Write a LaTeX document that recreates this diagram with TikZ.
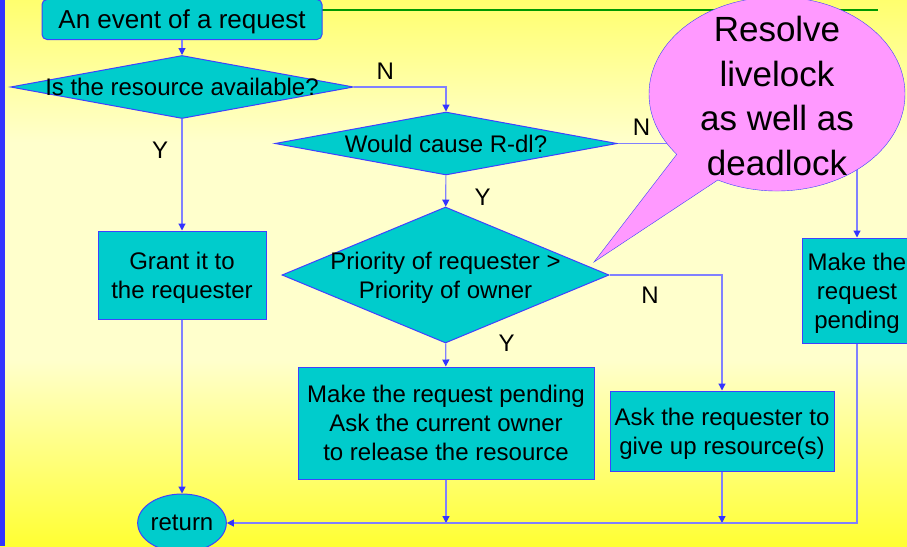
\documentclass[tikz,border=0pt]{standalone}
\usepackage{fontspec}
\setmainfont{Liberation Sans}
\usetikzlibrary{shapes.geometric, shapes.callouts, arrows.meta, positioning, calc}

\definecolor{boxfill}{RGB}{0,204,204}
\definecolor{boxline}{RGB}{64,64,255}
\definecolor{wire}{RGB}{128,128,255}
\definecolor{tipblue}{RGB}{51,51,255}
\definecolor{bubble}{RGB}{255,153,255}
\definecolor{ytop}{RGB}{255,255,110}
\definecolor{ylight}{RGB}{255,255,204}
\definecolor{ybot}{RGB}{255,255,51}
\definecolor{rulegreen}{RGB}{0,153,0}

\pgfdeclareverticalshading{slidebg}{100bp}{color(0bp)=(ybot); color(25bp)=(ybot); color(42bp)=(ylight); color(62bp)=(ylight); color(75bp)=(ytop); color(100bp)=(ytop)}

\begin{document}
\begin{tikzpicture}[
        x=1pt, y=-1pt,
        font=\fontsize{24}{29}\selectfont,
        process/.style={rectangle, draw=boxline, fill=boxfill, line width=1pt, align=center, inner sep=0pt, text depth=0pt},
        decision/.style={diamond, draw=boxline, fill=boxfill, line width=1pt, inner sep=0pt},
        terminal/.style={ellipse, draw=boxline, fill=boxfill, line width=1pt, inner sep=0pt},
        dtext/.style={align=center, text depth=0pt},
        line/.style={draw=wire, line width=1.2pt, -{Triangle[length=7pt, width=7pt, color=tipblue]}},
        yn/.style={text=black}
    ]
        % Slide background
        \useasboundingbox (0,0) rectangle (907,546);
        \clip (0,0) rectangle (907,546);
        \shade[shading=slidebg] (0,0) rectangle (907,546);
        \fill[tipblue] (0,0) rectangle (5,546);
        \draw[rulegreen, line width=2pt] (322,10) -- (878,10);

        % Request and first test
        \node[process, rounded corners=5pt, minimum width=280pt, minimum height=40pt, font=\fontsize{26}{31}\selectfont] (event) at (182,19.5) {An event of a request};
        \node[decision, minimum width=343pt, minimum height=63pt, label={[dtext]center:Is the resource available?}] (avail) at (182,87) {};
        \node[process, minimum width=168pt, minimum height=88pt] (grant) at (182,275) {Grant it to\\the requester};
        \node[terminal, minimum width=88pt, minimum height=58pt] (ret) at (182,523) {return};

        % Deadlock test
        \node[decision, minimum width=342pt, minimum height=63pt, label={[dtext]center:Would cause R-dl?}] (rdl) at (446,143.5) {};
        \node[decision, minimum width=327pt, minimum height=136pt, label={[dtext]center:Priority of requester >\\Priority of owner}] (prio) at (445.5,275) {};
        \node[process, minimum width=296pt, minimum height=112pt] (pend) at (446,423) {Make the request pending\\Ask the current owner\\to release the resource};
        \node[process, minimum width=224pt, minimum height=80pt] (ask) at (722,431) {Ask the requester to\\give up resource(s)};
        \node[process, minimum width=110pt, minimum height=105pt] (wait) at (857,290.5) {Make the\\request\\pending};

        % Connectors
        \draw[line] (event) -- (avail);
        \draw[line] (avail.east) -| node[yn, pos=0.17, above=4pt] {N} (rdl.north);
        \draw[line] (avail) -- node[yn, pos=0.28, left=10pt] {Y} (grant);
        \draw[line] (rdl.east) -| node[yn, pos=0.05, above=4pt] {N} (wait.north);
        \draw[line] (rdl) -- node[yn, pos=0.7, right=25pt] {Y} (prio);
        \draw[line] (prio.east) -| node[yn, pos=0.18, below=8pt] {N} (ask.north);
        \draw[line] (prio) -- node[yn, pos=0, right=49pt] {Y} (pend);
        \draw[line] (grant) -- (ret);
        \draw[line] (pend) -- (pend.south |- ret.east);
        \draw[line] (ask) -- (ask.south |- ret.east);
        \draw[line] (wait) |- (ret);

        % Callout
        \node[ellipse callout, draw=boxline, fill=bubble, minimum width=256pt, minimum height=194pt,
              callout absolute pointer={(594,262)}, callout pointer arc=24,
              label={[dtext, font=\fontsize{35}{44.5}\selectfont, yshift=-2pt]center:Resolve\\livelock\\as well as\\deadlock}] (note) at (777,94) {};
    \end{tikzpicture}
\end{document}
